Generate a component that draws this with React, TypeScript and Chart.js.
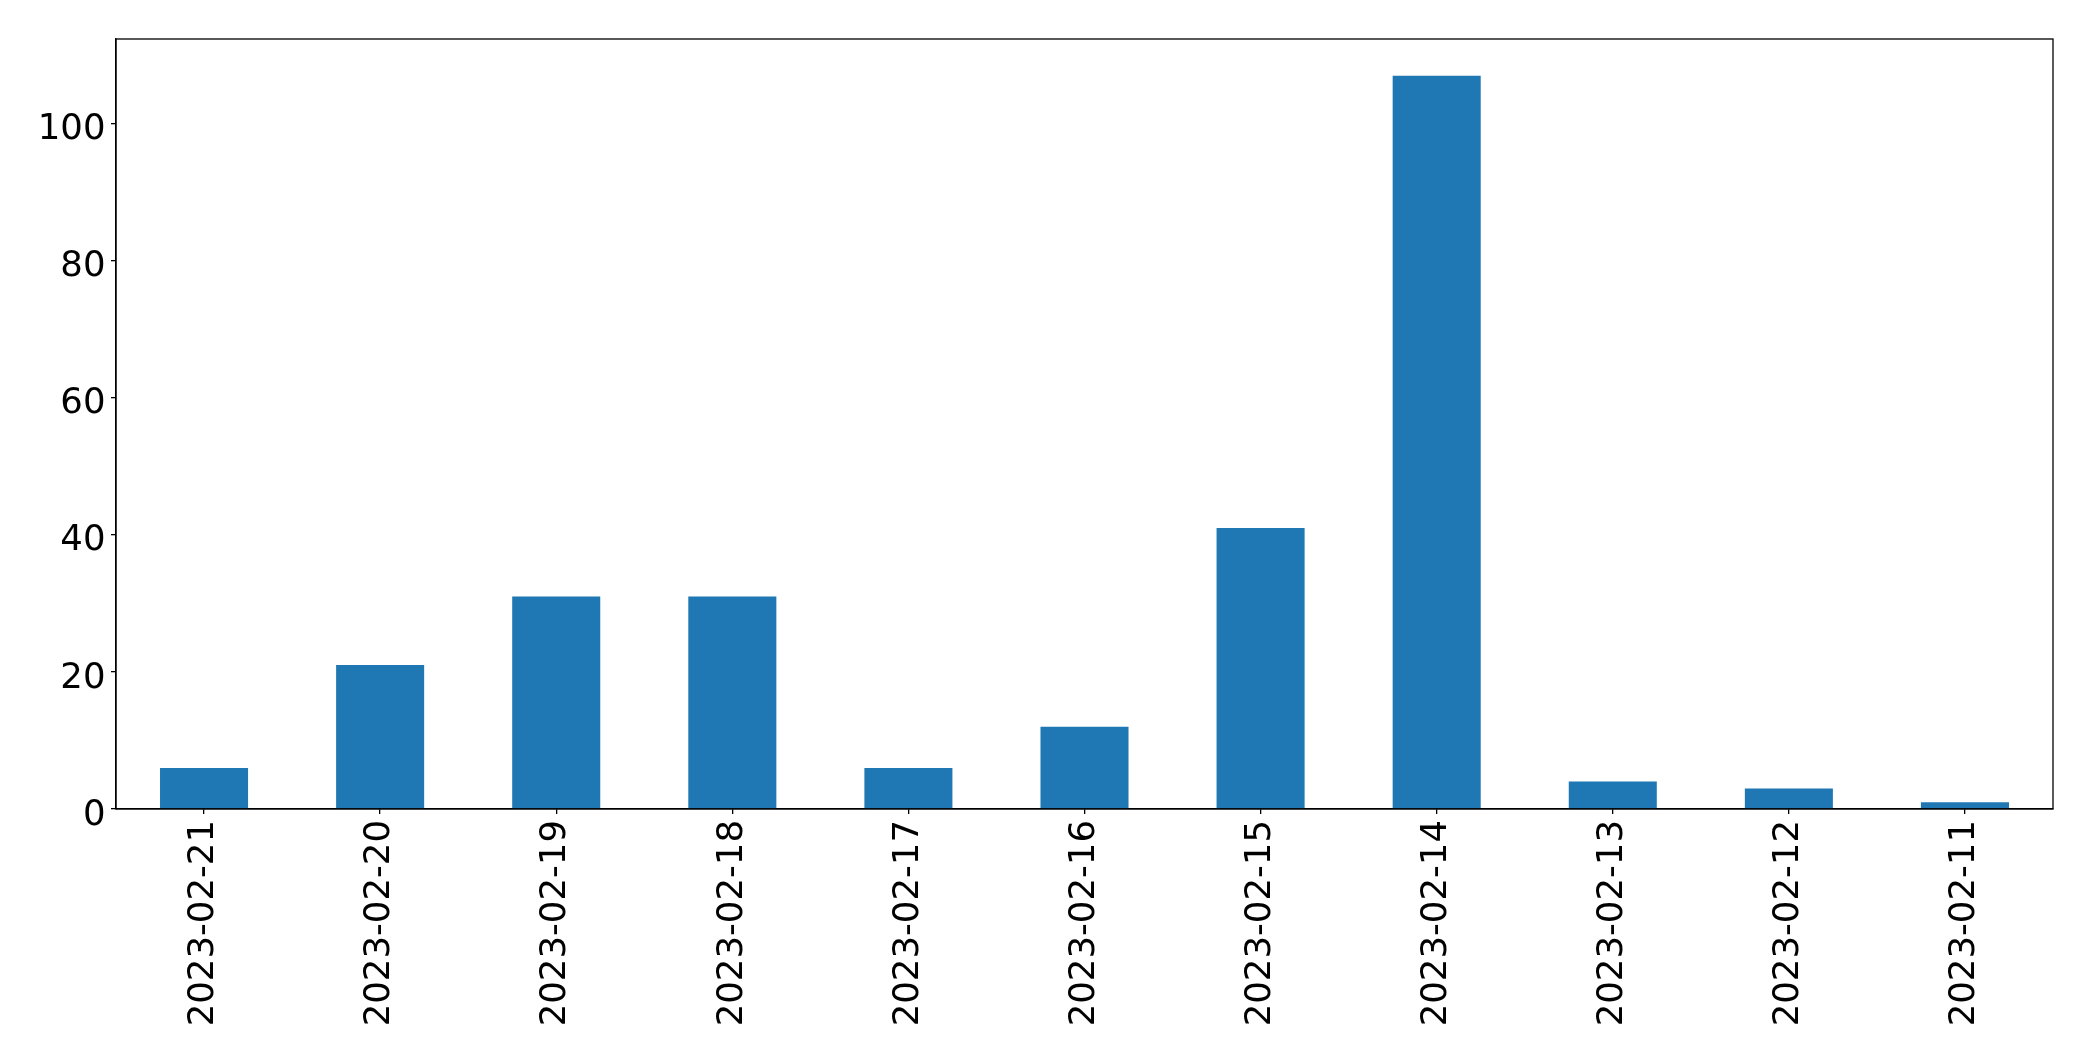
import React, { useEffect, useRef } from "react";
import { Chart, registerables } from "chart.js";

Chart.register(...registerables);

const categories = [
  "2023-02-21", "2023-02-20", "2023-02-19", "2023-02-18", "2023-02-17",
  "2023-02-16", "2023-02-15", "2023-02-14", "2023-02-13", "2023-02-12", "2023-02-11",
];
const counts = [6, 21, 31, 31, 6, 12, 41, 107, 4, 3, 1];
const yTicks = [0, 20, 40, 60, 80, 100];

const W = 2093;
const H = 1061;
const AREA = { left: 116, top: 39, right: 2053, bottom: 809 };
const FONT = "'DejaVu Sans', sans-serif";
const FONT_SIZE = 35.5;

const frame = {
  id: "frame",
  afterDraw(chart: any) {
    const { ctx, chartArea } = chart;
    ctx.save();
    ctx.strokeStyle = "#000";
    ctx.lineWidth = 1.3;
    ctx.strokeRect(chartArea.left, chartArea.top, chartArea.right - chartArea.left, chartArea.bottom - chartArea.top);
    // y tick labels, placed like matplotlib (center_baseline alignment)
    const y = chart.scales.y;
    ctx.fillStyle = "#000";
    ctx.font = `${FONT_SIZE}px ${FONT}`;
    ctx.textAlign = "right";
    ctx.textBaseline = "alphabetic";
    yTicks.forEach((v) => {
      const py = y.getPixelForValue(v);
      ctx.fillText(String(v), chartArea.left - 10.5, py + 15.6);
    });
    ctx.restore();
  },
};

export default function App() {
  const ref = useRef<HTMLCanvasElement | null>(null);
  useEffect(() => {
    if (!ref.current) return;
    const maxY = Math.max(...counts) * 1.05;
    const chart = new Chart(ref.current, {
      type: "bar",
      data: {
        labels: categories,
        datasets: [
          {
            data: counts,
            backgroundColor: "#1f77b4",
            borderWidth: 0,
            barPercentage: 0.5,
            categoryPercentage: 1.0,
          },
        ],
      },
      options: {
        animation: false,
        responsive: false,
        maintainAspectRatio: false,
        layout: { padding: { left: 0, top: AREA.top, right: W - AREA.right, bottom: 0 } },
        plugins: { legend: { display: false }, tooltip: { enabled: false } },
        scales: {
          x: {
            offset: true,
            grid: { display: true, drawOnChartArea: false, drawTicks: true, tickLength: 5, tickColor: "#000", offset: false, lineWidth: 1.3 },
            border: { display: true, color: "#000", width: 1.3 },
            ticks: {
              color: "#000",
              font: { family: FONT, size: FONT_SIZE },
              maxRotation: 90,
              minRotation: 90,
              padding: 6,
              autoSkip: false,
            },
            afterFit(scale: any) {
              scale.height = H - AREA.bottom;
            },
          },
          y: {
            min: 0,
            max: maxY,
            grid: { display: true, drawOnChartArea: false, drawTicks: true, tickLength: 5, tickColor: "#000", lineWidth: 1.3 },
            border: { display: true, color: "#000", width: 1.3 },
            afterBuildTicks(scale: any) {
              scale.ticks = yTicks.map((v) => ({ value: v }));
            },
            ticks: {
              display: false,
              includeBounds: false,
            },
            afterFit(scale: any) {
              scale.width = AREA.left;
            },
          },
        },
      },
      plugins: [frame],
    });
    return () => chart.destroy();
  }, []);
  return (
    <div style={{ position: "fixed", left: 0, top: 0, width: W, height: H, background: "#fff" }}>
      <canvas ref={ref} width={W} height={H} style={{ width: W, height: H, display: "block" }} />
    </div>
  );
}
